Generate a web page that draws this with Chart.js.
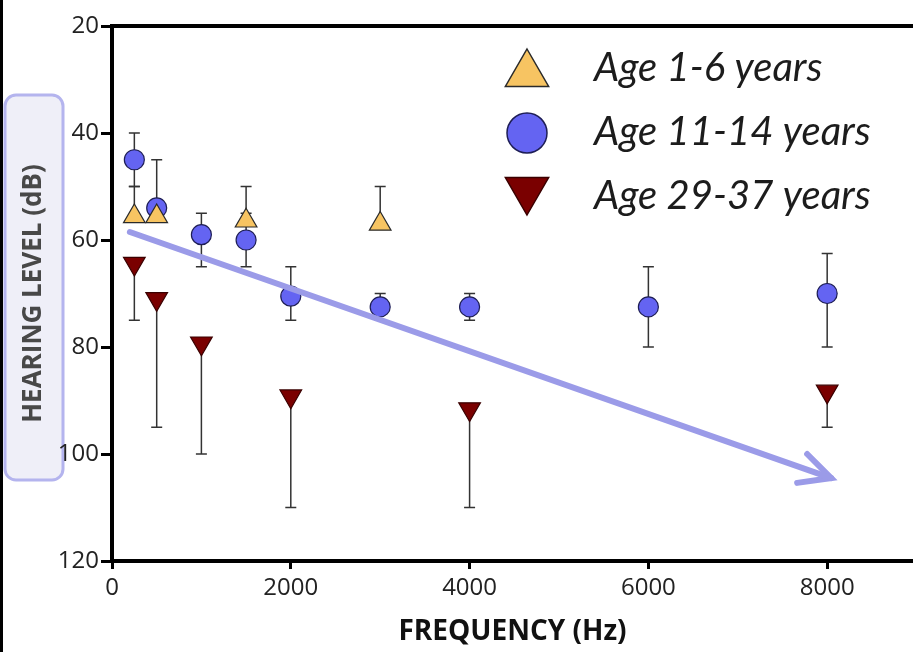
<!DOCTYPE html>
<html>
<head>
<meta charset="utf-8">
<script src="https://cdn.jsdelivr.net/npm/chart.js@4"></script>
<style>
    html, body { margin: 0; padding: 0; background: #fff; }
    #wrap { position: relative; width: 913px; height: 652px; }
</style>
</head>
<body>
<div id="wrap"><canvas id="chart"></canvas></div>
<script>
// Hearing level (dB) per frequency (Hz)
const youngFreq = [250, 500, 1500, 3000];
const youngLevel = [55.6, 55.6, 56.4, 57];
const youngTop = [50, 45, 50, 50];

const teenFreq = [250, 500, 1000, 1500, 2000, 3000, 4000, 6000, 8000];
const teenLevel = [45, 54, 59, 60, 70.5, 72.5, 72.5, 72.5, 70];
const teenTop = [40, null, 55, 55, 65, 70, 70, 65, 62.5];
const teenBottom = [50, null, 65, 65, 75, 75, 75, 80, 80];

const adultFreq = [250, 500, 1000, 2000, 4000, 8000];
const adultLevel = [64.4, 71, 79.3, 89.2, 91.6, 88.3];
const adultBottom = [75, 95, 100, 110, 110, 95];

const seriesLabels = ['Age 1-6 years', 'Age 11-14 years', 'Age 29-37 years'];

const xTicks = [0, 2000, 4000, 6000, 8000];
const yTicks = [20, 40, 60, 80, 100, 120];

// trend arrow, in data units
const arrowShaft = [[200, 58.5], [8045, 104.5]];
const arrowHead = [[7664, 105.4], [8045, 104.5], [7776, 100]];

function toPoints(xs, ys) {
    return xs.map((x, i) => ({ x: x, y: ys[i] }));
}

// error bars drawn behind the markers
const errorBars = {
    id: 'errorBars',
    beforeDatasetsDraw(chart) {
        const ctx = chart.ctx;
        const xs = chart.scales.x, ys = chart.scales.y;
        ctx.save();
        ctx.strokeStyle = '#333';
        ctx.lineWidth = 1.5;
        chart.data.datasets.forEach(ds => {
            if (!ds.errTop && !ds.errBottom) return;
            ds.data.forEach((p, i) => {
                const px = xs.getPixelForValue(p.x);
                const py = ys.getPixelForValue(p.y);
                [ds.errTop, ds.errBottom].forEach(arr => {
                    if (!arr || arr[i] == null) return;
                    const ey = ys.getPixelForValue(arr[i]);
                    ctx.beginPath();
                    ctx.moveTo(px, py);
                    ctx.lineTo(px, ey);
                    ctx.moveTo(px - 5.5, ey);
                    ctx.lineTo(px + 5.5, ey);
                    ctx.stroke();
                });
            });
        });
        ctx.restore();
    }
};

function drawMarker(ctx, style, x, y, r, rot) {
    ctx.beginPath();
    if (style === 'circle') {
        ctx.arc(x, y, r, 0, Math.PI * 2);
    } else {
        const s = rot ? -1 : 1;
        ctx.moveTo(x, y - s * r);
        ctx.lineTo(x + r * 0.866, y + s * r / 2);
        ctx.lineTo(x - r * 0.866, y + s * r / 2);
        ctx.closePath();
    }
    ctx.fill();
    ctx.stroke();
}

// frame bits, y title box and the legend
const decorations = {
    id: 'decorations',
    beforeDraw(chart) {
        const ctx = chart.ctx;
        ctx.save();
        ctx.fillStyle = '#EFEFF8';
        ctx.strokeStyle = '#B4B4EE';
        ctx.lineWidth = 3;
        ctx.beginPath();
        ctx.roundRect(5, 95, 58, 385, 11);
        ctx.fill();
        ctx.stroke();
        ctx.restore();
    },
    afterDraw(chart) {
        const ctx = chart.ctx;
        const area = chart.chartArea;
        ctx.save();
        // top frame line
        ctx.strokeStyle = '#000';
        ctx.lineWidth = 4;
        ctx.beginPath();
        ctx.moveTo(area.left - 2, area.top);
        ctx.lineTo(area.right, area.top);
        ctx.stroke();

        // legend
        ctx.fillStyle = '#fff';
        ctx.fillRect(497, area.top + 3, area.right - 497, 222);
        const series = chart.data.datasets.filter(ds => ds.legend);
        series.forEach((ds, i) => {
            const cy = 68 + i * 64;
            ctx.fillStyle = ds.backgroundColor;
            ctx.strokeStyle = ds.borderColor;
            ctx.lineWidth = 1.5;
            if (ds.pointStyle === 'circle') drawMarker(ctx, 'circle', 527, cy + 1, 20);
            else drawMarker(ctx, 'triangle', 527, cy + (ds.pointRotation ? -6 : 6), 25, ds.pointRotation);
            ctx.fillStyle = '#1c1c1c';
            ctx.font = 'italic 40px Lato';
            ctx.textBaseline = 'middle';
            ctx.fillText(ds.label, 594, cy);
        });

        // dark strip on the left edge
        ctx.fillStyle = '#000';
        ctx.fillRect(0, 0, 3, chart.height);
        ctx.restore();
    }
};

const arrowColor = '#9B9BE8';

new Chart(document.getElementById('chart'), {
    type: 'scatter',
    data: {
        datasets: [
            {
                label: 'trend',
                data: arrowShaft.map(p => ({ x: p[0], y: p[1] })),
                showLine: true,
                borderColor: arrowColor,
                borderWidth: 6,
                borderCapStyle: 'round',
                pointRadius: 0
            },
            {
                label: 'trend head',
                data: arrowHead.map(p => ({ x: p[0], y: p[1] })),
                showLine: true,
                borderColor: arrowColor,
                borderWidth: 6,
                borderCapStyle: 'round',
                borderJoinStyle: 'miter',
                pointRadius: 0
            },
            {
                label: seriesLabels[0],
                legend: true,
                data: toPoints(youngFreq, youngLevel),
                errTop: youngTop,
                pointStyle: 'triangle',
                pointRadius: 12.5,
                backgroundColor: '#F7C462',
                borderColor: '#2a2a2a',
                borderWidth: 1.2
            },
            {
                label: seriesLabels[1],
                legend: true,
                data: toPoints(teenFreq, teenLevel),
                errTop: teenTop,
                errBottom: teenBottom,
                pointStyle: 'circle',
                pointRadius: 10,
                backgroundColor: '#6464F2',
                borderColor: '#1e1e55',
                borderWidth: 1.2
            },
            {
                label: seriesLabels[2],
                legend: true,
                data: toPoints(adultFreq, adultLevel),
                errBottom: adultBottom,
                pointStyle: 'triangle',
                pointRotation: 180,
                pointRadius: 12.5,
                backgroundColor: '#7A0000',
                borderColor: '#3a0000',
                borderWidth: 1.2
            }
        ]
    },
    options: {
        responsive: true,
        maintainAspectRatio: false,
        animation: false,
        layout: { autoPadding: false, padding: { left: 0, top: 26, right: 0, bottom: 0 } },
        plugins: {
            legend: { display: false },
            tooltip: { enabled: false }
        },
        scales: {
            x: {
                type: 'linear',
                min: 0,
                max: 8960,
                afterBuildTicks: s => { s.ticks = xTicks.map(v => ({ value: v })); },
                afterFit: s => { s.height = 91; },
                ticks: {
                    callback: v => String(v),
                    color: '#222',
                    padding: 5,
                    maxRotation: 0,
                    font: { family: "'Liberation Sans Narrow', 'Open Sans'", size: 24 }
                },
                grid: { drawOnChartArea: false, drawTicks: true, tickLength: 8, tickWidth: 3, tickColor: '#000' },
                border: { display: true, color: '#000', width: 4 },
                title: {
                    display: true,
                    text: 'FREQUENCY (Hz)',
                    color: '#111',
                    padding: { top: 0, bottom: 3 },
                    font: { family: "'Open Sans'", size: 28, weight: 'bold' }
                }
            },
            y: {
                type: 'linear',
                reverse: true,
                min: 20,
                max: 120,
                afterBuildTicks: s => { s.ticks = yTicks.map(v => ({ value: v })); },
                afterFit: s => { s.width = 112; },
                ticks: {
                    color: '#222',
                    padding: 2,
                    font: { family: "'Liberation Sans Narrow', 'Open Sans'", size: 24 }
                },
                grid: { drawOnChartArea: false, drawTicks: true, tickLength: 11, tickWidth: 3, tickColor: '#000' },
                border: { display: true, color: '#000', width: 4 },
                title: {
                    display: true,
                    text: 'HEARING LEVEL (dB)',
                    color: '#484848',
                    padding: { top: 18, bottom: 0 },
                    font: { family: "'Open Sans'", size: 26, weight: 'bold' }
                }
            }
        }
    },
    plugins: [errorBars, decorations]
});
</script>
</body>
</html>
